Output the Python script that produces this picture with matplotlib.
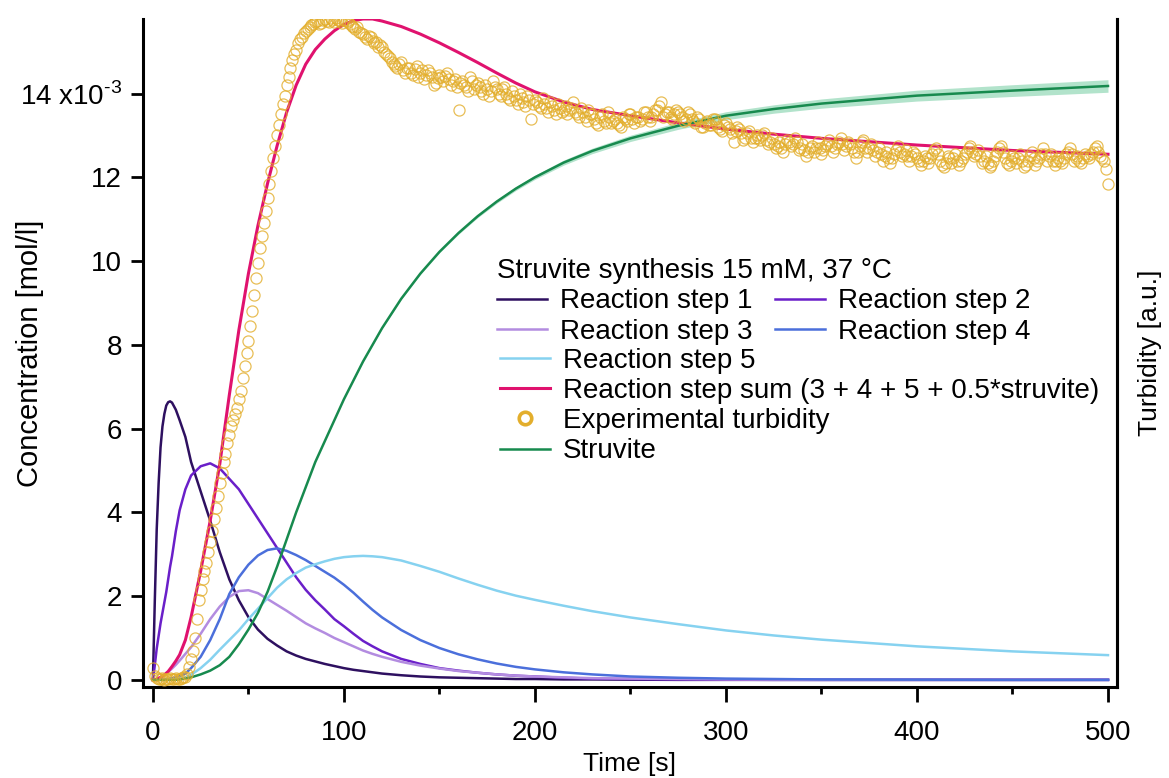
#!/usr/bin/env python3
"""Struvite synthesis kinetics: reaction steps, struvite and experimental turbidity."""

import matplotlib

matplotlib.use("Agg")
import matplotlib.pyplot as plt
import numpy as np

plt.rcParams["font.family"] = ["Liberation Sans", "DejaVu Sans"]
plt.rcParams["mathtext.fontset"] = "custom"
plt.rcParams["mathtext.rm"] = "Liberation Sans"

# model time grid [s]
model_time = [0, 1, 2, 3, 4, 5, 6, 7, 8, 9, 10, 12, 14, 17, 20,
              25, 30, 35, 40, 45, 50, 55, 60, 65, 70, 75, 80, 85, 90, 95, 100,
              105, 110, 115, 120, 130, 140, 150, 160, 170, 180, 190, 200,
              215, 230, 250, 275, 300, 325, 350, 400, 450, 500]

# concentrations in 1e-3 mol/l, one value per model_time entry
step1 = [0, 1.9, 3.6, 4.7, 5.55, 6.05, 6.35, 6.55, 6.63, 6.65, 6.62, 6.45, 6.2, 5.8, 5.2,
         4.5, 3.8, 3.05, 2.4, 1.9, 1.5, 1.2, 0.98, 0.82, 0.68, 0.58, 0.5, 0.44, 0.38, 0.33, 0.28,
         0.24, 0.21, 0.18, 0.15, 0.11, 0.08, 0.06, 0.05, 0.04, 0.03, 0.02, 0.02,
         0.01, 0.01, 0.005, 0, 0, 0, 0, 0, 0, 0]
step2 = [0, 0.35, 0.75, 1.05, 1.35, 1.6, 1.85, 2.1, 2.4, 2.7, 2.95, 3.55, 4.05, 4.55, 4.88,
         5.1, 5.17, 5.05, 4.8, 4.55, 4.2, 3.85, 3.5, 3.15, 2.8, 2.45, 2.15, 1.9, 1.68, 1.45, 1.28,
         1.1, 0.93, 0.8, 0.68, 0.5, 0.38, 0.28, 0.22, 0.17, 0.13, 0.1, 0.08,
         0.05, 0.03, 0.02, 0.01, 0.005, 0, 0, 0, 0, 0]
step3 = [0, 0, 0.02, 0.04, 0.06, 0.09, 0.12, 0.15, 0.19, 0.23, 0.27, 0.36, 0.46, 0.62, 0.78,
         1.1, 1.45, 1.75, 1.98, 2.12, 2.14, 2.07, 1.93, 1.79, 1.65, 1.5, 1.35, 1.23, 1.12, 1.0, 0.9,
         0.8, 0.7, 0.62, 0.55, 0.43, 0.34, 0.27, 0.21, 0.17, 0.13, 0.1, 0.08,
         0.06, 0.04, 0.03, 0.02, 0.01, 0.005, 0, 0, 0, 0]
step4 = [0, 0, 0, 0, 0.01, 0.01, 0.01, 0.02, 0.02, 0.03, 0.04, 0.06, 0.09, 0.15, 0.28,
         0.55, 0.95, 1.45, 2.05, 2.45, 2.75, 2.97, 3.1, 3.14, 3.08, 2.98, 2.86, 2.72, 2.58, 2.44, 2.27,
         2.08, 1.87, 1.67, 1.49, 1.19, 0.95, 0.76, 0.61, 0.49, 0.39, 0.31, 0.25,
         0.18, 0.13, 0.08, 0.05, 0.03, 0.02, 0.01, 0.005, 0, 0]
step5 = [0, 0, 0, 0, 0, 0, 0, 0, 0.01, 0.01, 0.01, 0.02, 0.03, 0.06, 0.12,
         0.28, 0.48, 0.72, 0.95, 1.18, 1.45, 1.7, 1.95, 2.2, 2.4, 2.55, 2.68, 2.76, 2.83, 2.89, 2.93,
         2.95, 2.96, 2.95, 2.93, 2.85, 2.72, 2.58, 2.42, 2.27, 2.13, 2.01, 1.91,
         1.77, 1.64, 1.49, 1.33, 1.18, 1.06, 0.96, 0.8, 0.68, 0.59]
step_sum = [0, 0, 0.02, 0.04, 0.06, 0.09, 0.12, 0.16, 0.2, 0.26, 0.32, 0.45, 0.6, 0.95, 1.5,
            2.6, 3.8, 5.15, 6.8, 8.35, 9.7, 10.85, 11.85, 12.75, 13.55, 14.2, 14.7, 15.05, 15.3,
            15.5, 15.65,
            15.74, 15.78, 15.78, 15.73, 15.6, 15.42, 15.21, 14.98, 14.74, 14.49, 14.25, 14.04,
            13.8, 13.62, 13.47, 13.3, 13.15, 13.03, 12.93, 12.77, 12.64, 12.55]
struvite = [0, 0, 0, 0, 0, 0, 0, 0, 0, 0, 0, 0, 0.01, 0.03, 0.06,
            0.13, 0.22, 0.35, 0.55, 0.85, 1.2, 1.6, 2.1, 2.7, 3.35, 4.0, 4.6, 5.2, 5.7, 6.2, 6.7,
            7.15, 7.6, 8.0, 8.4, 9.1, 9.7, 10.22, 10.67, 11.07, 11.42, 11.73, 12.0,
            12.35, 12.63, 12.93, 13.23, 13.47, 13.63, 13.76, 13.95, 14.07, 14.18]
struvite_band = [0, 0, 0, 0, 0, 0, 0, 0, 0, 0, 0, 0, 0, 0, 0,
                 0, 0, 0, 0, 0, 0, 0, 0, 0, 0, 0, 0, 0, 0, 0, 0,
                 0.005, 0.005, 0.01, 0.01, 0.015, 0.02, 0.025, 0.03, 0.035, 0.04, 0.045, 0.05,
                 0.06, 0.065, 0.075, 0.085, 0.095, 0.1, 0.11, 0.13, 0.14, 0.15]

# experimental turbidity, one reading per second from 0 to 500 s
turbidity = [
    0.28, 0.10, 0.05, 0.03, 0.02, 0.04, 0.00, 0.02, 0.03, 0.05,
    0.01, 0.03, 0.04, 0.02, 0.02, 0.05, 0.06, 0.08, 0.15, 0.30,
    0.50,
    0.70, 1.00, 1.45, 1.90, 2.15, 2.40, 2.60, 2.80, 3.05, 3.30,
    3.55, 3.85, 4.10, 4.40, 4.70, 4.95, 5.20, 5.40, 5.65, 5.85,
    6.05, 6.20, 6.35, 6.50, 6.70, 6.90, 7.20, 7.50, 7.80, 8.10,
    8.45, 8.80, 9.20, 9.60, 9.95, 10.30, 10.60, 10.90, 11.20, 11.50,
    11.85, 12.15, 12.45, 12.75, 13.00, 13.25, 13.50, 13.75, 13.95, 14.20,
    14.40, 14.60, 14.80, 14.95, 15.05, 15.20, 15.30, 15.35, 15.45, 15.50,
    15.55, 15.60, 15.64, 15.66, 15.70, 15.72, 15.66, 15.68, 15.75, 15.78,
    15.72, 15.70, 15.80, 15.75, 15.70, 15.80, 15.76, 15.72, 15.68, 15.76,
    15.72, 15.70, 15.66, 15.62, 15.58, 15.55, 15.60, 15.48, 15.45, 15.42,
    15.35, 15.30, 15.38, 15.35, 15.25, 15.20, 15.22, 15.10, 15.15, 15.12,
    15.00, 14.95, 14.90, 14.85, 14.75, 14.70, 14.65, 14.60, 14.70, 14.75,
    14.55, 14.50, 14.62, 14.60, 14.48, 14.45, 14.58, 14.65, 14.40, 14.50,
    14.55, 14.35, 14.45, 14.55, 14.50, 14.40, 14.20, 14.25, 14.38, 14.45,
    14.40, 14.30, 14.42, 14.50, 14.35, 14.20, 14.30, 14.35, 14.15, 13.60,
    14.25, 14.30, 14.20, 14.15, 14.05, 14.40, 14.30, 14.10, 14.20, 14.25,
    14.15, 14.05, 14.00, 14.20, 14.10, 13.95, 14.05, 14.30, 14.15, 14.10,
    14.00, 13.95, 14.10, 14.15, 14.00, 13.90, 13.85, 14.05, 13.95, 13.85,
    13.75, 14.00, 13.90, 13.80, 13.70, 13.95, 13.85, 13.40, 13.75, 13.85,
    13.80, 13.70, 13.65, 13.90, 13.75, 13.65, 13.55, 13.80, 13.70, 13.60,
    13.50, 13.75, 13.65, 13.55, 13.60, 13.70, 13.50, 13.60, 13.65, 13.80,
    13.55, 13.50, 13.45, 13.65, 13.55, 13.45, 13.35, 13.60, 13.50, 13.50,
    13.40, 13.30, 13.25, 13.45, 13.50, 13.35, 13.30, 13.55, 13.45, 13.30,
    13.35, 13.40, 13.30, 13.25, 13.20, 13.45, 13.40, 13.35, 13.50, 13.50,
    13.40, 13.30, 13.45, 13.45, 13.35, 13.40, 13.55, 13.55, 13.45, 13.35,
    13.45, 13.50, 13.60, 13.60, 13.70, 13.80, 13.45, 13.50, 13.55, 13.55,
    13.45, 13.40, 13.50, 13.60, 13.55, 13.50, 13.45, 13.35, 13.40, 13.55,
    13.50, 13.40, 13.35, 13.30, 13.45, 13.40, 13.20, 13.20, 13.30, 13.35,
    13.25, 13.25, 13.40, 13.40, 13.30, 13.20, 13.15, 13.10, 13.25, 13.30,
    13.20, 13.15, 13.05, 12.85, 13.10, 13.20, 13.15, 13.05, 12.90, 12.95,
    13.05, 13.10, 12.95, 12.85, 12.95, 13.00, 12.95, 12.90, 13.00, 13.05,
    12.90, 12.80, 12.85, 12.95, 12.80, 12.70, 12.75, 12.85, 12.70, 12.60,
    12.80, 12.90, 12.85, 12.75, 12.80, 12.95, 12.85, 12.65, 12.70, 12.80,
    12.65, 12.50, 12.60, 12.70, 12.75, 12.60, 12.70, 12.85, 12.70, 12.55,
    12.65, 12.75, 12.80, 12.90, 12.75, 12.60, 12.70, 12.80, 12.85, 12.95,
    12.80, 12.65, 12.75, 12.85, 12.80, 12.70, 12.60, 12.45, 12.60, 12.75,
    12.85, 12.90, 12.70, 12.60, 12.70, 12.80, 12.65, 12.50, 12.60, 12.70,
    12.55, 12.40, 12.50, 12.60, 12.45, 12.35, 12.45, 12.55, 12.65, 12.75,
    12.60, 12.50, 12.55, 12.65, 12.50, 12.40, 12.50, 12.60, 12.55, 12.45,
    12.40, 12.30, 12.40, 12.50, 12.45, 12.35, 12.45, 12.55, 12.65, 12.70,
    12.55, 12.40, 12.30, 12.25, 12.35, 12.50, 12.45, 12.35, 12.45, 12.55,
    12.40, 12.30, 12.40, 12.45, 12.55, 12.60, 12.70, 12.75, 12.60, 12.50,
    12.55, 12.65, 12.50, 12.35, 12.40, 12.50, 12.35, 12.25, 12.30, 12.40,
    12.50, 12.60, 12.70, 12.75, 12.60, 12.45, 12.35, 12.30, 12.40, 12.50,
    12.45, 12.35, 12.45, 12.55, 12.40, 12.25, 12.30, 12.40, 12.50, 12.60,
    12.45, 12.30, 12.40, 12.45, 12.55, 12.70, 12.55, 12.40, 12.50, 12.55,
    12.40, 12.30, 12.40, 12.45, 12.40, 12.35, 12.45, 12.55, 12.60, 12.70,
    12.55, 12.40, 12.45, 12.50, 12.40, 12.35, 12.45, 12.55, 12.50, 12.45,
    12.55, 12.60, 12.70, 12.75, 12.60, 12.50, 12.45, 12.40, 12.20, 11.85,
]
turbidity_time = np.arange(len(turbidity))

y_ticks = [0, 2, 4, 6, 8, 10, 12, 14]
y_tick_labels = ["0", "2", "4", "6", "8", "10", "12", r"14 x10$^{\text{-3}}$"]
x_ticks = [0, 100, 200, 300, 400, 500]
x_minor_ticks = [50, 150, 250, 350, 450]

COLORS = {
    "step1": "#2e1060",
    "step2": "#6a1fc9",
    "step3": "#b38ce0",
    "step4": "#4b6fdb",
    "step5": "#86d2f0",
    "sum": "#e0126e",
    "turbidity": "#e3ae2c",
    "struvite": "#178a4e",
    "band": "#9fdcbf",
}

fig = plt.figure(figsize=(11.69, 7.78), dpi=100)
ax = fig.add_axes([0.1223, 0.1170, 0.8332, 0.8586])

t = np.array(model_time)
ax.fill_between(t, np.array(struvite) - np.array(struvite_band),
                np.array(struvite) + np.array(struvite_band),
                color=COLORS["band"], alpha=0.8, linewidth=0, zorder=1)
h_s1, = ax.plot(t, step1, color=COLORS["step1"], lw=1.8, zorder=2)
h_s2, = ax.plot(t, step2, color=COLORS["step2"], lw=1.8, zorder=2)
h_s3, = ax.plot(t, step3, color=COLORS["step3"], lw=1.8, zorder=2)
h_s4, = ax.plot(t, step4, color=COLORS["step4"], lw=1.8, zorder=2)
h_s5, = ax.plot(t, step5, color=COLORS["step5"], lw=1.8, zorder=2)
h_sum, = ax.plot(t, step_sum, color=COLORS["sum"], lw=2.2, zorder=3)
h_str, = ax.plot(t, struvite, color=COLORS["struvite"], lw=1.8, zorder=3)
ax.plot(turbidity_time, turbidity, linestyle="none", marker="o", ms=8,
        mfc="none", mec=COLORS["turbidity"], mew=0.9, alpha=0.8, zorder=4)
h_turb, = ax.plot([], [], linestyle="none", marker="o", ms=9, mfc="none",
                  mec=COLORS["turbidity"], mew=2.6)

ax.set_xlim(-5.2, 504.7)
ax.set_ylim(-0.17, 15.78)
ax.set_xticks(x_ticks)
ax.set_xticks(x_minor_ticks, minor=True)
ax.set_yticks(y_ticks)
ax.set_yticklabels(y_tick_labels)
ax.tick_params(axis="both", which="major", direction="out", width=2, labelsize=20)
ax.tick_params(axis="x", which="major", length=11, pad=13)
ax.tick_params(axis="x", which="minor", length=5, width=2)
ax.tick_params(axis="y", which="major", length=9, pad=6)
for side in ("left", "bottom", "right"):
    ax.spines[side].set_linewidth(2.2)
ax.spines["top"].set_visible(False)
ax.set_xlabel("Time [s]", fontsize=19, labelpad=4)
ax.set_ylabel("Concentration [mol/l]", fontsize=21)
ax.yaxis.set_label_coords(-0.102, 0.5)

right = ax.twinx()
right.set_ylim(ax.get_ylim())
right.set_yticks([])
right.spines["top"].set_visible(False)
right.spines["right"].set_linewidth(2.2)
right.set_ylabel("Turbidity [a.u.]", fontsize=19)
right.yaxis.set_label_coords(1.022, 0.5)

legend_kw = dict(frameon=False, fontsize=20, handlelength=1.8, handletextpad=0.47,
                 borderpad=0, labelspacing=0.15, borderaxespad=0)
fig.legend([h_s1, h_s3, h_s2, h_s4],
           ["Reaction step 1", "Reaction step 3", "Reaction step 2", "Reaction step 4"],
           ncol=2, columnspacing=0.83, title="Struvite synthesis 15 mM, 37 °C",
           title_fontsize=20, alignment="left", loc="upper left",
           bbox_to_anchor=(0.425, 0.668), **legend_kw)
fig.legend([h_s5, h_sum, h_turb, h_str],
           ["Reaction step 5", "Reaction step sum (3 + 4 + 5 + 0.5*struvite)",
            "Experimental turbidity", "Struvite"],
           loc="upper left", bbox_to_anchor=(0.4277, 0.553), **legend_kw)

fig.savefig("out.png", dpi=100)
